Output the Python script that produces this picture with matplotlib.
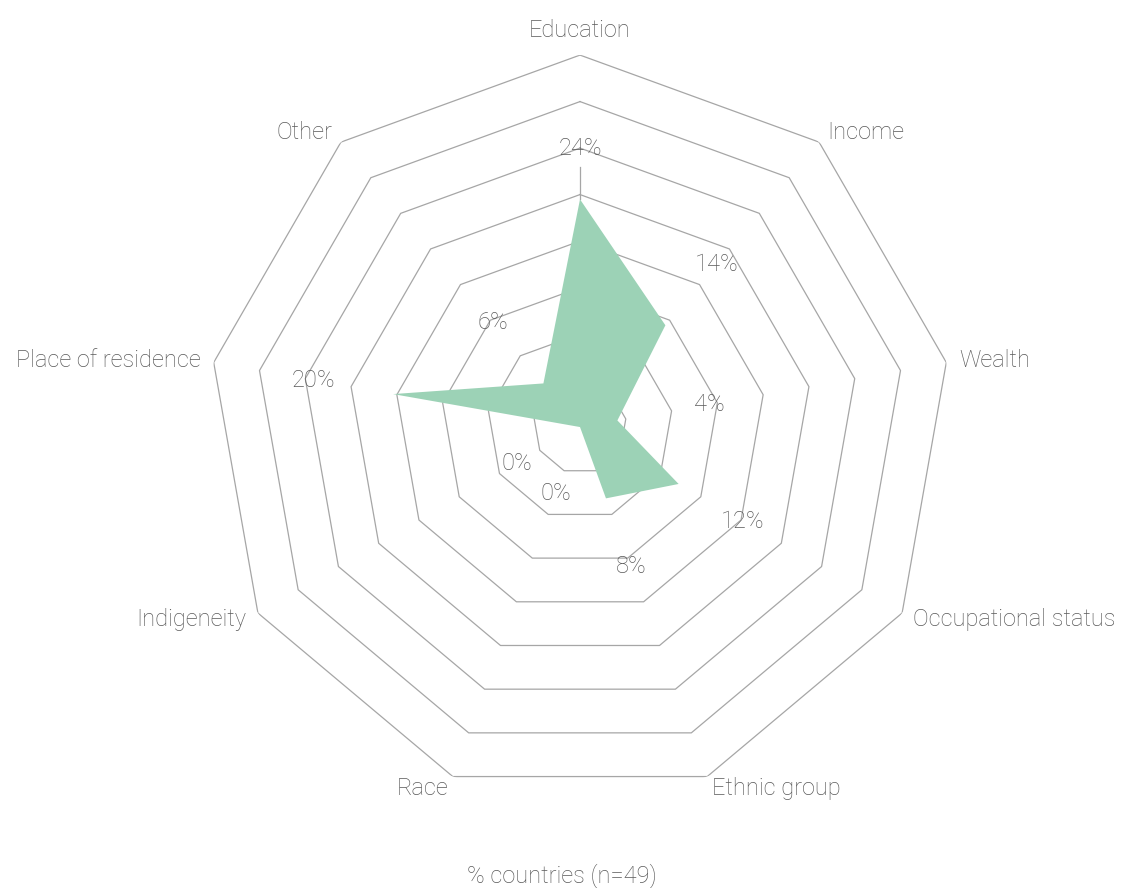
import numpy as np
import matplotlib
matplotlib.use("Agg")
import matplotlib.pyplot as plt

# countries (out of 49) reporting each dimension of disaggregation
categories = ["Education", "Income", "Wealth", "Occupational status",
              "Ethnic group", "Race", "Indigeneity", "Place of residence", "Other"]
n_countries = 49
countries = [12, 7, 2, 6, 4, 0, 0, 10, 3]

pct = np.array(countries) / n_countries * 100

TEXT = "#595959"
GRID = "#a6a6a6"
FILL = "#9cd2b6"
FONT = "Roboto"
WEIGHT = "light"

fig = plt.figure(figsize=(11.21, 8.88), dpi=100)
ax = fig.add_axes([0.1856, 0.1002, 0.6636, 0.8378], projection="polar")
ax.set_theta_offset(np.pi / 2)
ax.set_theta_direction(-1)
ax.set_ylim(0, 40)
ax.axis("off")

n = len(categories)
theta = np.arange(n) * 2 * np.pi / n
theta_c = np.append(theta, theta[0])

# nonagon rings every 5%
for r in range(5, 45, 5):
    ax.plot(theta_c, [r] * (n + 1), color=GRID, lw=0.9, zorder=1)

ax.fill(theta_c, np.append(pct, pct[0]), color=FILL, lw=0, zorder=2)

# value labels pushed out along each spoke
label_pad = [5.5, 8.5, 10, 8, 7.8, 7.6, 7.8, 8.7, 8.5]
for t, v, pad in zip(theta, pct, label_pad):
    ax.text(t, v + pad, "{:.0f}%".format(v), ha="center", va="center",
            fontsize=17, color=TEXT, family=FONT, fontweight=WEIGHT, zorder=3)
# leader line for the education label
ax.plot([theta[0], theta[0]], [pct[0], pct[0] + 3.5], color=GRID, lw=0.9, zorder=1)

# category names around the outer ring
for t, name in zip(theta, categories):
    s = np.sin(t)
    if abs(s) < 0.01:
        ha, va = "center", "bottom"
    elif s > 0:
        ha, va = "left", "center"
    else:
        ha, va = "right", "center"
    ax.text(t, 41.4, name, ha=ha, va=va, fontsize=17, color=TEXT,
            family=FONT, fontweight=WEIGHT)

fig.text(0.501, 0.0135, "% countries (n=49)", ha="center", va="center",
         fontsize=17, color=TEXT, family=FONT, fontweight=WEIGHT)

fig.savefig("out.png", dpi=100)
